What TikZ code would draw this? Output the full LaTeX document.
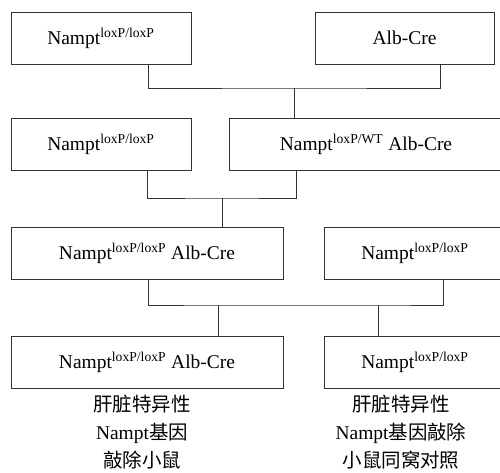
\documentclass[tikz,border=0pt]{standalone}
\usepackage{fontspec}
\setmainfont{Liberation Serif}
\newfontfamily\cjk{Noto Sans CJK SC}
\usepackage{tikz}
\usetikzlibrary{calc, positioning}
\tikzset{
    mouse/.style={draw=black!80, line width=0.75pt, minimum height=52*0.75pt, inner sep=0pt},
    link/.style={draw=black!80, line width=0.75pt},
}
\newcommand{\fl}[1]{Nampt\textsuperscript{#1}}

\begin{document}
\begin{tikzpicture}[x=0.75pt, y=-0.75pt, font=\fontsize{14.6}{21}\selectfont]
    \useasboundingbox (0,0) rectangle (500,472);
    \node[mouse, minimum width=180*0.75pt](P1_a) at (101,38) {\fl{loxP/loxP}};
    \node[mouse, minimum width=179*0.75pt](P1_b) at (404.5,38) {Alb-Cre};
    \node[mouse, minimum width=180*0.75pt](P2_a) at (101,144.5) {\fl{loxP/loxP}};
    \node[mouse, minimum width=274*0.75pt](P2_b) at (366,144.5) {\fl{loxP/WT} Alb-Cre};
    \node[mouse, minimum width=272*0.75pt](P3_a) at (147,253) {\fl{loxP/loxP} Alb-Cre};
    \node[mouse, minimum width=182*0.75pt](P3_b) at (415,253) {\fl{loxP/loxP}};
    \node[mouse, minimum width=272*0.75pt](KO) at (147,362) {\fl{loxP/loxP} Alb-Cre};
    \node[mouse, minimum width=182*0.75pt](WT) at (415,362) {\fl{loxP/loxP}};
    % generation 1 -> 2
    \coordinate(J1) at (294,88);
    \draw[link] ($(P1_a.south)+(47,0)$) |- (J1) -| ($(P1_b.south)+(35.5,0)$);
    \draw[link] (J1) -- (J1 |- P2_b.north);
    % generation 2 -> 3
    \coordinate(J2) at (222,198);
    \draw[link] ($(P2_a.south)+(46,0)$) |- (J2) -| ($(P2_b.south)+(-70,0)$);
    \draw[link] (J2) -- (J2 |- P3_a.north);
    % generation 3 -> 4
    \coordinate(J3) at (218,305);
    \coordinate(J4) at (378,305);
    \draw[link] ($(P3_a.south)+(1,0)$) |- (J3) -- (J4) -| ($(P3_b.south)+(28,0)$);
    \draw[link] (J3) -- (J3 |- KO.north);
    \draw[link] (J4) -- (J4 |- WT.north);
    % notes
    \node[align=center, anchor=north, inner sep=0pt](KO_txt) at (142,395) {{\cjk 肝脏特异性}\\Nampt{\cjk 基因}\\{\cjk 敲除小鼠}};
    \node[align=center, anchor=north, inner sep=0pt](WT_txt) at (401,395) {{\cjk 肝脏特异性}\\Nampt{\cjk 基因敲除}\\{\cjk 小鼠同窝对照}};
\end{tikzpicture}
\end{document}
